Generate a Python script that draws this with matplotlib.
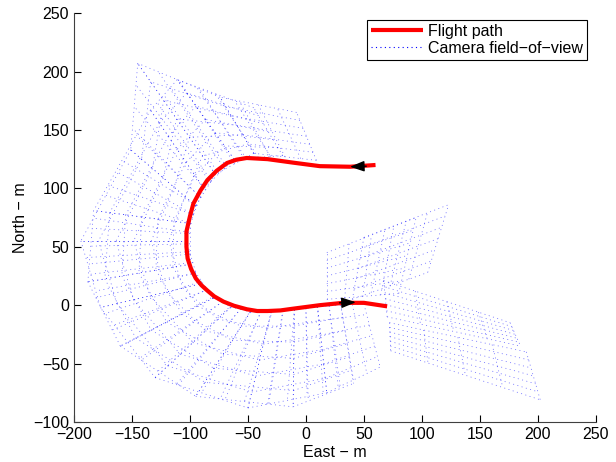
import matplotlib
matplotlib.use('Agg')
import matplotlib.pyplot as plt
import numpy as np

plt.rcParams['font.family'] = ['Liberation Sans', 'DejaVu Sans']
plt.rcParams['font.size'] = 11.5

# flight path (east, north) in metres, in flight order
path_e = [60, 38, 12, -11, -33, -51, -60, -68, -77, -85, -91, -97, -100, -103, -103,
          -102, -99, -95, -90, -85, -79, -71, -62, -51, -42, -33, -22, -11, 12, 32, 50, 70]
path_n = [120, 118.5, 119, 122, 125, 126, 124.5, 121.7, 115, 107, 98, 87, 76, 63, 50,
          40, 31, 23, 17, 12.5, 7.5, 3, -0.5, -3.5, -5, -5, -4.5, -3, 0, 2, 2, -1]

# camera footprint stations around the turn: near edge and far edge points
near_e = [9, -20, -45, -62, -78, -88, -95, -100, -103, -100, -92, -80, -65, -48, -30, -10, 10, 30, 50]
near_n = [124, 128, 130, 125, 112, 100, 85, 70, 55, 35, 18, 6, -2, -6, -6, -4, -1, 1, 1]
far_e = [-8, -45, -74, -111, -145, -134, -151, -183, -194, -188, -177, -160, -130, -95, -50, -11, 18, 41, 64]
far_n = [165, 169, 178, 193, 207, 167, 133, 81, 55, 20, -2, -35, -62, -78, -88, -87, -75, -67, -53]

# footprints at the end of the run (near-a, near-b, far-b, far-a)
wing_quads = [
    [(18, 5), (80, 10), (95, 75), (18, 45)],
    [(40, 5), (105, 28), (123, 86), (50, 58)],
    [(67, 21), (176, -15), (185, -35), (70, -10)],
    [(72, -15), (190, -40), (202, -81), (73, -39)],
]

fig = plt.figure(figsize=(6.16, 4.62), dpi=100)
ax = fig.add_axes([0.120, 0.0866, 0.8474, 0.885])

fov_style = dict(color='b', lw=0.55, linestyle=(0, (1.3, 4.5)), alpha=0.6)


def draw_quad(ax, c, nu=5, nv=7, **kw):
    c = np.asarray(c, dtype=float)
    for s in np.linspace(0, 1, nu):
        p0 = c[0] + (c[1] - c[0]) * s
        p1 = c[3] + (c[2] - c[3]) * s
        ax.plot([p0[0], p1[0]], [p0[1], p1[1]], **kw)
    for t in np.linspace(0, 1, nv):
        q0 = c[0] + (c[3] - c[0]) * t
        q1 = c[1] + (c[2] - c[1]) * t
        ax.plot([q0[0], q1[0]], [q0[1], q1[1]], **kw)


for k in range(len(near_e) - 2):
    quad = [(near_e[k], near_n[k]), (near_e[k + 2], near_n[k + 2]),
            (far_e[k + 2], far_n[k + 2]), (far_e[k], far_n[k])]
    draw_quad(ax, quad, **fov_style)
for quad in wing_quads:
    draw_quad(ax, quad, **fov_style)

ax.plot(path_e, path_n, color='r', lw=3, label='Flight path',
        solid_capstyle='butt', solid_joinstyle='round')
ax.plot([], [], color='b', lw=0.8, linestyle=(0, (1, 3)), label='Camera field\u2212of\u2212view')

# direction arrows along the path (top: heading west, bottom: heading east)
arrows = [((path_e[1], path_n[1]), (path_e[1] + 14, path_n[1] + 0.5)),
          ((43, 2.5), (29, 2))]
for tip, base in arrows:
    ax.annotate('', xy=tip, xytext=base,
                arrowprops=dict(arrowstyle='-|>,head_length=0.75,head_width=0.28',
                                color='k', lw=1.0, shrinkA=0, shrinkB=0))

ax.set_xlim(-200, 250)
ax.set_ylim(-100, 250)
ax.set_xticks(np.arange(-200, 251, 50))
ax.set_yticks(np.arange(-100, 251, 50))
ax.tick_params(direction='in', length=5, width=0.8)
ax.spines['top'].set_visible(False)
ax.spines['right'].set_visible(False)
for s in ['left', 'bottom']:
    ax.spines[s].set_color('#404040')

ax.set_xlabel('East \u2212 m', labelpad=2)
ax.set_ylabel('North \u2212 m', labelpad=4)

leg = ax.legend(loc='upper right', bbox_to_anchor=(0.983, 0.983), borderaxespad=0,
                fancybox=False, framealpha=1, edgecolor='k', handlelength=3.2,
                borderpad=0.25, labelspacing=0.1, handletextpad=0.35, fontsize=11.5)
leg.get_frame().set_linewidth(0.8)

fig.savefig('out.png', dpi=100)
